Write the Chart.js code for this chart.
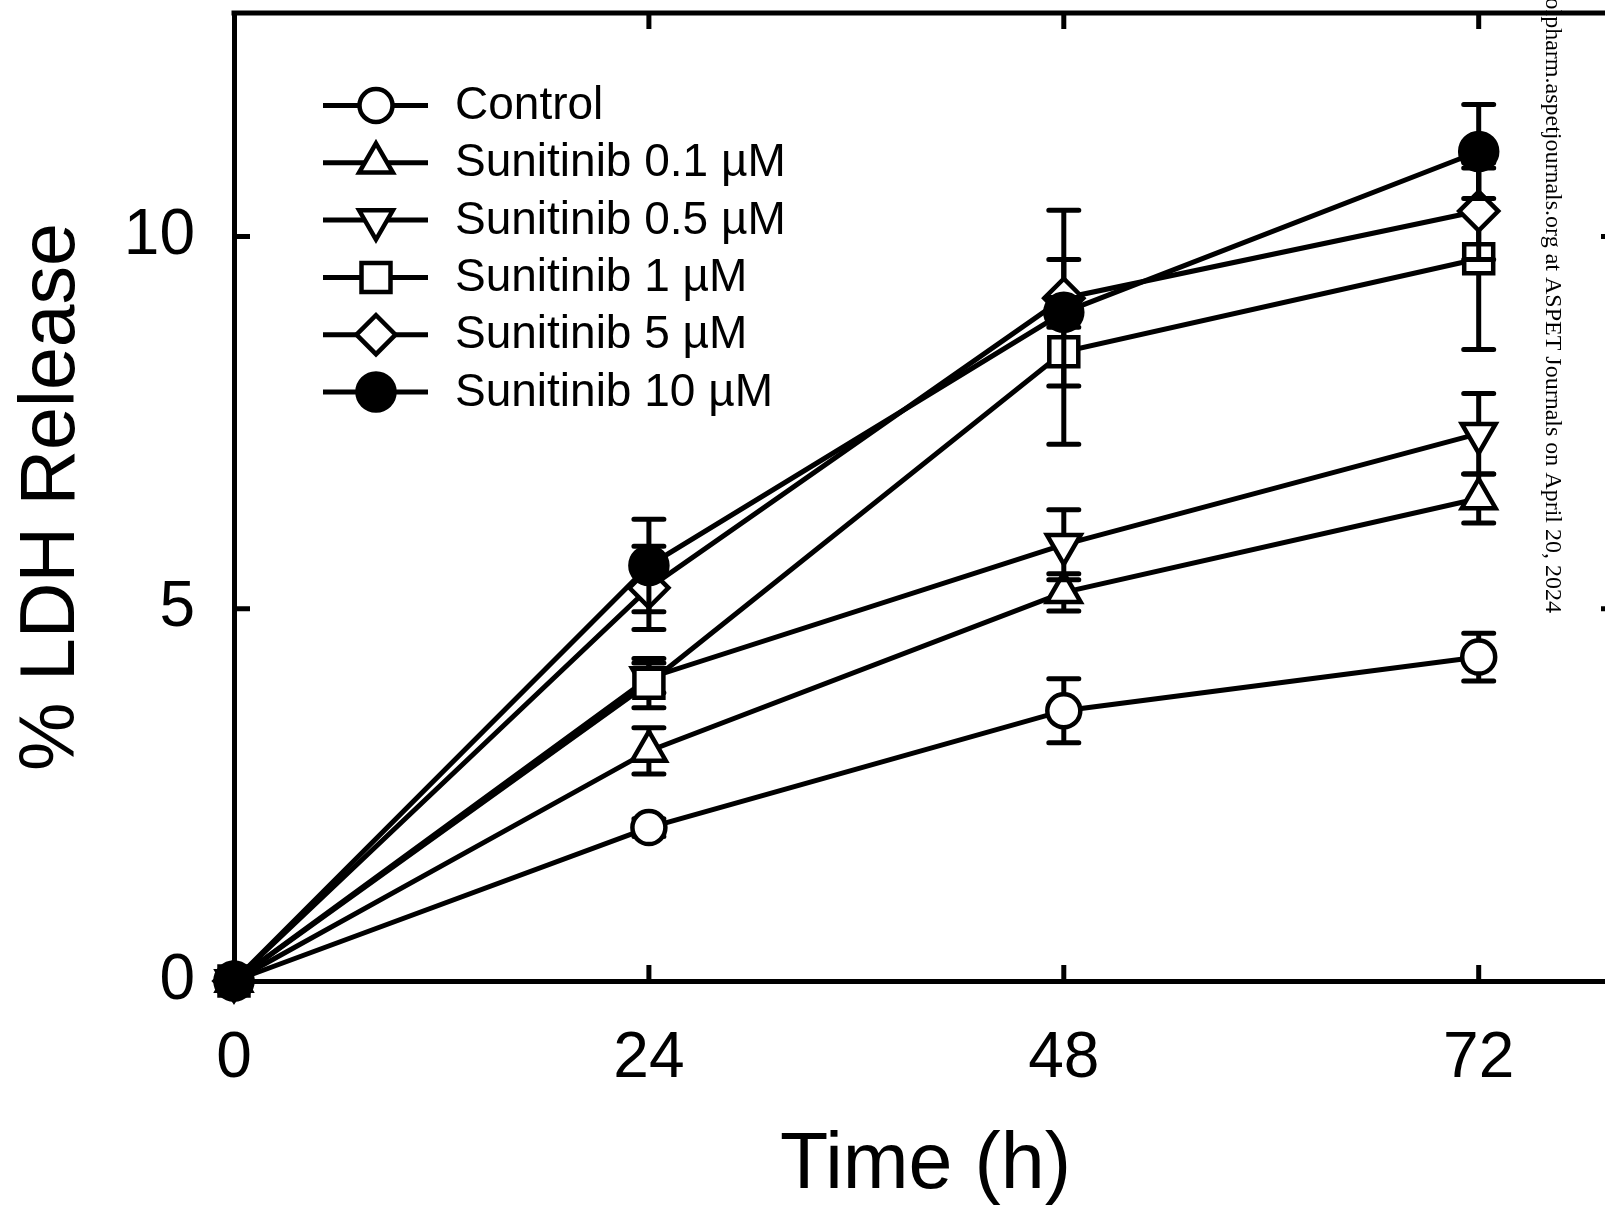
<!DOCTYPE html>
<html>
<head>
<meta charset="utf-8">
<script src="https://cdn.jsdelivr.net/npm/chart.js@4"></script>
<style>
  html, body { margin: 0; padding: 0; background: #fff; overflow: hidden; }
  canvas { display: block; }
</style>
</head>
<body>
<canvas id="ldhChart" width="1640" height="1212"></canvas>
<script>
// time points (h)
const times = [0, 24, 48, 72];
const xTicks = [0, 24, 48, 72];
const yTicks = [0, 5, 10];

const seriesNames = [
    "Control",
    "Sunitinib 0.1 µM",
    "Sunitinib 0.5 µM",
    "Sunitinib 1 µM",
    "Sunitinib 5 µM",
    "Sunitinib 10 µM"
];

// % LDH release, mean and SD
const control = [0, 2.06, 3.63, 4.35];
const controlSd = [0, 0.12, 0.43, 0.32];
const suni01 = [0, 3.09, 5.22, 6.48];
const suni01Sd = [0, 0.31, 0.25, 0.33];
const suni05 = [0, 4.07, 5.86, 7.35];
const suni05Sd = [0, 0.2, 0.47, 0.54];
const suni1 = [0, 4.0, 8.45, 9.70];
const suni1Sd = [0, 0.33, 1.24, 1.22];
const suni5 = [0, 5.28, 9.17, 10.34];
const suni5Sd = [0, 0.56, 1.18, 0.65];
const suni10 = [0, 5.58, 8.98, 11.14];
const suni10Sd = [0, 0.62, 0.2, 0.63];

const watermark = "Downloaded from molpharm.aspetjournals.org at ASPET Journals on April 20, 2024";

const values = [control, suni01, suni05, suni1, suni5, suni10];
const errors = [controlSd, suni01Sd, suni05Sd, suni1Sd, suni5Sd, suni10Sd];

const markers = [
    { style: "circle", radius: 16.5, fill: "#fff", rotation: 0 },
    { style: "triangle", radius: 19.5, fill: "#fff", rotation: 0 },
    { style: "triangle", radius: 19.5, fill: "#fff", rotation: 180 },
    { style: "rect", radius: 20.5, fill: "#fff", rotation: 0 },
    { style: "rectRot", radius: 19.5, fill: "#fff", rotation: 0 },
    { style: "circle", radius: 18.5, fill: "#000", rotation: 0 }
];

const FONT = "'Liberation Sans', Arial, Helvetica, sans-serif";
Chart.defaults.font.family = FONT;
Chart.defaults.color = "#000";

const LW = 5;

const datasets = seriesNames.map((name, i) => ({
    label: name,
    data: times.map((t, j) => ({ x: t, y: values[i][j] })),
    sd: errors[i],
    borderColor: "#000",
    borderWidth: LW,
    tension: 0,
    pointStyle: markers[i].style,
    pointRadius: markers[i].radius,
    pointHoverRadius: markers[i].radius,
    pointRotation: markers[i].rotation,
    pointBackgroundColor: markers[i].fill,
    pointBorderColor: "#000",
    pointBorderWidth: 4.5,
    pointHoverBorderWidth: 4.5,
    clip: false,
    order: seriesNames.length - 1 - i
}));

// error bars go under each series' own markers
const errorBars = {
    id: "errorBars",
    beforeDatasetDraw(chart, args) {
        const ds = chart.data.datasets[args.index];
        const yScale = chart.scales.y;
        const ctx = chart.ctx;
        ctx.save();
        ctx.strokeStyle = "#000";
        ctx.lineWidth = LW;
        ctx.lineCap = "round";
        args.meta.data.forEach((pt, j) => {
            const sd = ds.sd[j];
            if (!sd) return;
            const v = ds.data[j].y;
            const top = yScale.getPixelForValue(v + sd);
            const bot = yScale.getPixelForValue(v - sd);
            ctx.beginPath();
            ctx.moveTo(pt.x, top);
            ctx.lineTo(pt.x, bot);
            ctx.moveTo(pt.x - 15, top);
            ctx.lineTo(pt.x + 15, top);
            ctx.moveTo(pt.x - 15, bot);
            ctx.lineTo(pt.x + 15, bot);
            ctx.stroke();
        });
        ctx.restore();
    }
};

// top/right frame and inward tick marks
const frame = {
    id: "frame",
    beforeDatasetsDraw(chart) {
        const { ctx, chartArea: a, scales: { x, y } } = chart;
        const tick = 16;
        ctx.save();
        ctx.strokeStyle = "#000";
        ctx.lineWidth = LW;
        ctx.beginPath();
        ctx.moveTo(a.left - 2.5, a.top);
        ctx.lineTo(chart.width, a.top);
        ctx.moveTo(a.right, a.top);
        ctx.lineTo(a.right, a.bottom);
        xTicks.forEach(v => {
            if (v === 0) return;
            const px = x.getPixelForValue(v);
            ctx.moveTo(px, a.bottom);
            ctx.lineTo(px, a.bottom - tick);
            ctx.moveTo(px, a.top);
            ctx.lineTo(px, a.top + tick);
        });
        yTicks.forEach(v => {
            if (v === 0) return;
            const py = y.getPixelForValue(v);
            ctx.moveTo(a.left, py);
            ctx.lineTo(a.left + tick, py);
            ctx.moveTo(a.right, py);
            ctx.lineTo(a.right - tick, py);
        });
        ctx.stroke();
        ctx.restore();
    }
};

// legend with line + marker, inside the plot
const lineLegend = {
    id: "lineLegend",
    afterDatasetsDraw(chart) {
        const ctx = chart.ctx;
        const x0 = 323, x1 = 428, xm = 376, xt = 455, y0 = 105.5, step = 57.3;
        ctx.save();
        seriesNames.forEach((name, i) => {
            const yy = y0 + i * step;
            const m = markers[i];
            ctx.strokeStyle = "#000";
            ctx.lineWidth = LW;
            ctx.beginPath();
            ctx.moveTo(x0, yy);
            ctx.lineTo(x1, yy);
            ctx.stroke();
            ctx.fillStyle = m.fill;
            ctx.lineWidth = 4.5;
            Chart.helpers.drawPoint(ctx, {
                pointStyle: m.style, rotation: m.rotation, radius: m.radius, borderWidth: 4.5
            }, xm, yy);
            ctx.fillStyle = "#000";
            ctx.font = "46px " + FONT;
            ctx.textAlign = "left";
            ctx.textBaseline = "middle";
            ctx.fillText(name, xt, yy + 1);
        });
        ctx.restore();
    }
};

const stamp = {
    id: "stamp",
    afterDraw(chart) {
        const ctx = chart.ctx;
        ctx.save();
        ctx.translate(1546, 613);
        ctx.rotate(Math.PI / 2);
        ctx.fillStyle = "#000";
        ctx.font = "24px 'Liberation Serif', 'Times New Roman', serif";
        ctx.textAlign = "right";
        ctx.textBaseline = "alphabetic";
        ctx.fillText(watermark, 0, 0);
        ctx.restore();
    }
};

const noPad = s => {
    s.paddingTop = 0;
    s.paddingBottom = 0;
    s.paddingLeft = 0;
    s.paddingRight = 0;
};

const ctx = document.getElementById("ldhChart").getContext("2d");
const chart = new Chart(ctx, {
    type: "line",
    data: { datasets },
    plugins: [errorBars, frame, lineLegend, stamp],
    options: {
        responsive: false,
        animation: false,
        layout: { autoPadding: false, padding: { left: 0, top: 13, right: 23, bottom: 0 } },
        plugins: {
            legend: { display: false },
            tooltip: { enabled: false }
        },
        scales: {
            x: {
                type: "linear",
                min: 0,
                max: 80,
                afterBuildTicks: s => { s.ticks = xTicks.map(v => ({ value: v })); },
                afterFit: s => { s.height = 231; noPad(s); },
                grid: { display: false, drawTicks: false },
                border: { display: true, color: "#000", width: LW },
                ticks: { font: { size: 64 }, padding: 40, color: "#000", maxRotation: 0, autoSkip: false },
                title: {
                    display: true,
                    text: "Time (h)",
                    color: "#000",
                    font: { size: 79, lineHeight: 1 },
                    padding: { top: 0, bottom: 6 }
                }
            },
            y: {
                type: "linear",
                min: 0,
                max: 13,
                afterBuildTicks: s => { s.ticks = yTicks.map(v => ({ value: v })); },
                afterFit: s => { s.width = 234; noPad(s); },
                grid: { display: false, drawTicks: false },
                border: { display: true, color: "#000", width: LW },
                ticks: { font: { size: 64 }, padding: 39, color: "#000", autoSkip: false },
                title: {
                    display: true,
                    text: "% LDH Release",
                    color: "#000",
                    font: { size: 77, lineHeight: 1 },
                    padding: { top: 14, bottom: 0 }
                }
            }
        }
    }
});
</script>
</body>
</html>
